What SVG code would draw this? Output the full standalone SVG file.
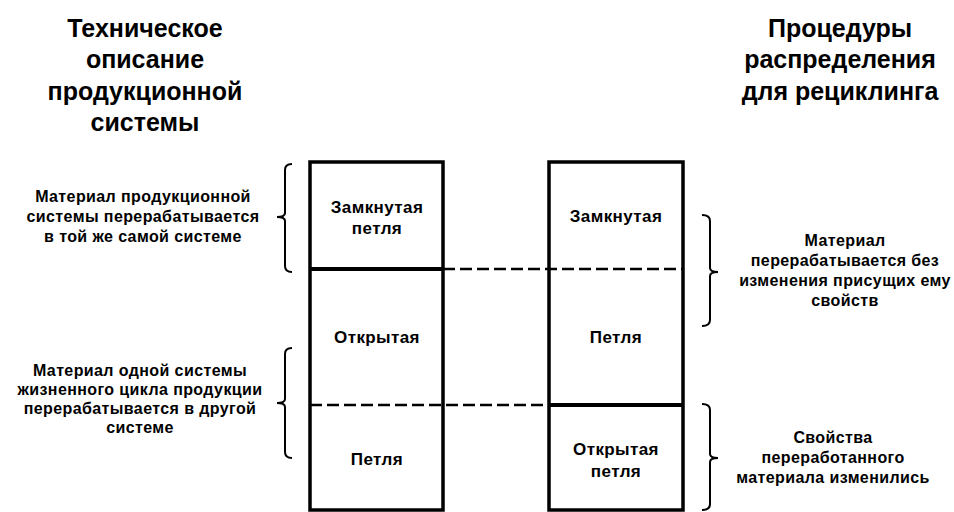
<svg xmlns="http://www.w3.org/2000/svg" width="954" height="512" viewBox="0 0 954 512">
<style>
text{font-family:"Liberation Sans",Arial,sans-serif;font-weight:bold;fill:#000;text-anchor:middle}
.title{font-size:25px}
.note{font-size:16px;letter-spacing:0.4px}
.cell{font-size:17px;letter-spacing:0.4px}
.box{fill:none;stroke:#000;stroke-width:3.5}
.solid{stroke:#000;stroke-width:4}
.dash{stroke:#000;stroke-width:2.5;stroke-dasharray:12 5}
.brace{fill:none;stroke:#000;stroke-width:2}
</style>
<rect width="954" height="512" fill="#fff"/>
<g id="title-left">
<text class="title" x="145" y="37">Техническое</text>
<text class="title" x="145" y="68">описание</text>
<text class="title" x="145" y="100">продукционной</text>
<text class="title" x="145" y="131">системы</text>
</g>
<g id="title-right">
<text class="title" x="840" y="37">Процедуры</text>
<text class="title" x="840" y="68">распределения</text>
<text class="title" x="840" y="100">для рециклинга</text>
</g>
<g id="box-left">
<rect class="box" x="310" y="162" width="133" height="348"/>
<text class="cell" x="377" y="213">Замкнутая</text>
<text class="cell" x="377" y="234">петля</text>
<text class="cell" x="377" y="343">Открытая</text>
<text class="cell" x="377" y="465">Петля</text>
</g>
<g id="box-right">
<rect class="box" x="549" y="162" width="134" height="348"/>
<text class="cell" x="616" y="222">Замкнутая</text>
<text class="cell" x="616" y="343">Петля</text>
<text class="cell" x="616" y="455">Открытая</text>
<text class="cell" x="616" y="477">петля</text>
</g>
<g id="connectors">
<line class="solid" x1="310" y1="269" x2="443" y2="269"/>
<line class="dash" x1="443" y1="269" x2="683" y2="269"/>
<line class="dash" x1="310" y1="405" x2="549" y2="405"/>
<line class="solid" x1="549" y1="405" x2="683" y2="405"/>
<path class="brace" d="M292,164 C287,164 285,166 285,170 L285,213 C285,216 281,217 277,217 C281,217 285,218 285,221 L285,266 C285,270 287,272 292,272"/>
<path class="brace" d="M292,348 C287,348 285,350 285,354 L285,399 C285,402 281,403 277,403 C281,403 285,404 285,407 L285,452 C285,456 287,458 292,458"/>
<path class="brace" d="M702,215 C707,215 710,217 710,221 L710,268 C710,271 714,272 718,272 C714,272 710,273 710,276 L710,320 C710,324 707,326 702,326"/>
<path class="brace" d="M702,404 C707,404 710,406 710,410 L710,454 C710,457 714,458 718,458 C714,458 710,459 710,462 L710,504 C710,508 707,510 702,510"/>
</g>
<g id="note-left-1">
<text class="note" x="143" y="202">Материал продукционной</text>
<text class="note" x="143" y="222">системы перерабатывается</text>
<text class="note" x="143" y="242">в той же самой системе</text>
</g>
<g id="note-left-2">
<text class="note" x="140" y="376">Материал одной системы</text>
<text class="note" x="140" y="395">жизненного цикла продукции</text>
<text class="note" x="140" y="414">перерабатывается в другой</text>
<text class="note" x="140" y="433">системе</text>
</g>
<g id="note-right-1">
<text class="note" x="845" y="246">Материал</text>
<text class="note" x="845" y="266">перерабатывается без</text>
<text class="note" x="845" y="286">изменения присущих ему</text>
<text class="note" x="845" y="306">свойств</text>
</g>
<g id="note-right-2">
<text class="note" x="833" y="443">Свойства</text>
<text class="note" x="833" y="463">переработанного</text>
<text class="note" x="833" y="483">материала изменились</text>
</g>
</svg>
